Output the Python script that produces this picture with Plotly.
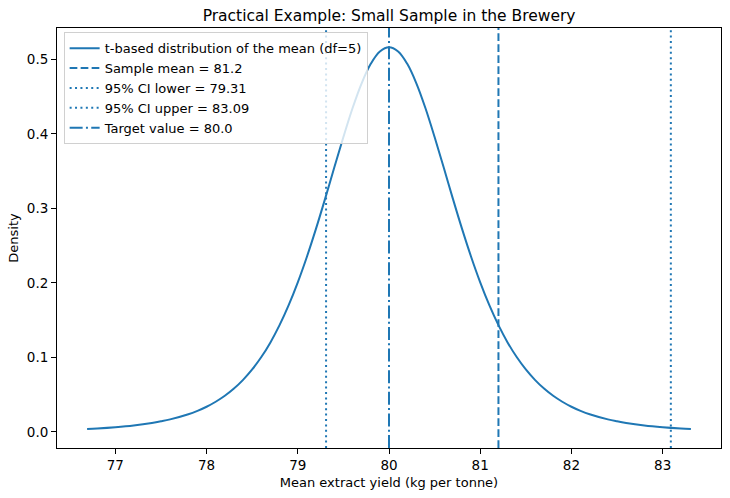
import plotly.graph_objects as go

# Curve values (t-based distribution of the mean, df=5)
offsets = [0.0, 0.1, 0.2, 0.3, 0.4, 0.5, 0.6, 0.7, 0.8, 0.9, 1.0, 1.1, 1.2, 1.3, 1.4,
           1.5, 1.6, 1.7, 1.8, 1.9, 2.0, 2.1, 2.2, 2.4, 2.5, 2.6, 2.8, 3.0, 3.2, 3.31]
dens = [0.5165, 0.5108, 0.4942, 0.4681, 0.4346, 0.3960, 0.3549, 0.3132, 0.2729, 0.2352,
        0.2008, 0.1701, 0.1433, 0.1202, 0.1005, 0.0839, 0.0699, 0.0582, 0.0485, 0.0405,
        0.0338, 0.0283, 0.0237, 0.0168, 0.0142, 0.0120, 0.0087, 0.0064, 0.0047, 0.0040]
center = 80.0
sample_mean = 81.2
ci_lower = 79.31
ci_upper = 83.09
target = 80.0

x_curve = [center - d for d in reversed(offsets[1:])] + [center + d for d in offsets]
y_curve = list(reversed(dens[1:])) + dens

x_range = [76.36, 83.64]
y_range = [-0.0216, 0.5423]
x_ticks = [77, 78, 79, 80, 81, 82, 83]
y_ticks = [0.0, 0.1, 0.2, 0.3, 0.4, 0.5]

blue = "#1f77b4"
font = "DejaVu Sans, Liberation Sans, sans-serif"

fig = go.Figure()
fig.add_trace(go.Scatter(x=x_curve, y=y_curve, mode="lines", line=dict(color=blue, width=2, shape="spline"),
                         name="t-based distribution of the mean (df=5)"))

vlines = [
    (sample_mean, "7.7px,3.3px", f"Sample mean = {sample_mean}"),
    (ci_lower, "2px,3.4px", f"95% CI lower = {ci_lower}"),
    (ci_upper, "2px,3.4px", f"95% CI upper = {ci_upper}"),
    (target, "13px,3.3px,2px,3.3px", f"Target value = {target}"),
]
for xv, dash, name in vlines:
    fig.add_trace(go.Scatter(x=[xv, xv], y=y_range, mode="lines",
                             line=dict(color=blue, width=2, dash=dash), name=name))

axis_common = dict(showline=True, linecolor="black", linewidth=1, mirror=True,
                   ticks="outside", ticklen=5, tickcolor="black", showgrid=False,
                   zeroline=False, tickfont=dict(size=13.5, color="black"))

fig.update_layout(
    width=730, height=498,
    margin=dict(l=57, r=9, t=28, b=50),
    paper_bgcolor="white", plot_bgcolor="white",
    font=dict(family=font, size=13, color="black"),
    title=dict(text="Practical Example: Small Sample in the Brewery", x=0.533, xanchor="center",
               yref="container", y=0.968, yanchor="middle", font=dict(size=15.5)),
    xaxis=dict(range=x_range, tickvals=x_ticks, ticktext=[str(t) for t in x_ticks],
               title=dict(text="Mean extract yield (kg per tonne)", font=dict(size=13), standoff=5),
               **axis_common),
    yaxis=dict(range=y_range, tickvals=y_ticks, ticktext=[f"{t:.1f}" for t in y_ticks],
               title=dict(text="Density", font=dict(size=13), standoff=5),
               **axis_common),
    legend=dict(x=0.01, y=0.99, xanchor="left", yanchor="top",
                bgcolor="rgba(255,255,255,0.8)", bordercolor="#d0d0d0", borderwidth=1,
                font=dict(size=13), tracegroupgap=0, itemwidth=30),
    showlegend=True,
)

fig.write_html("out.html")
